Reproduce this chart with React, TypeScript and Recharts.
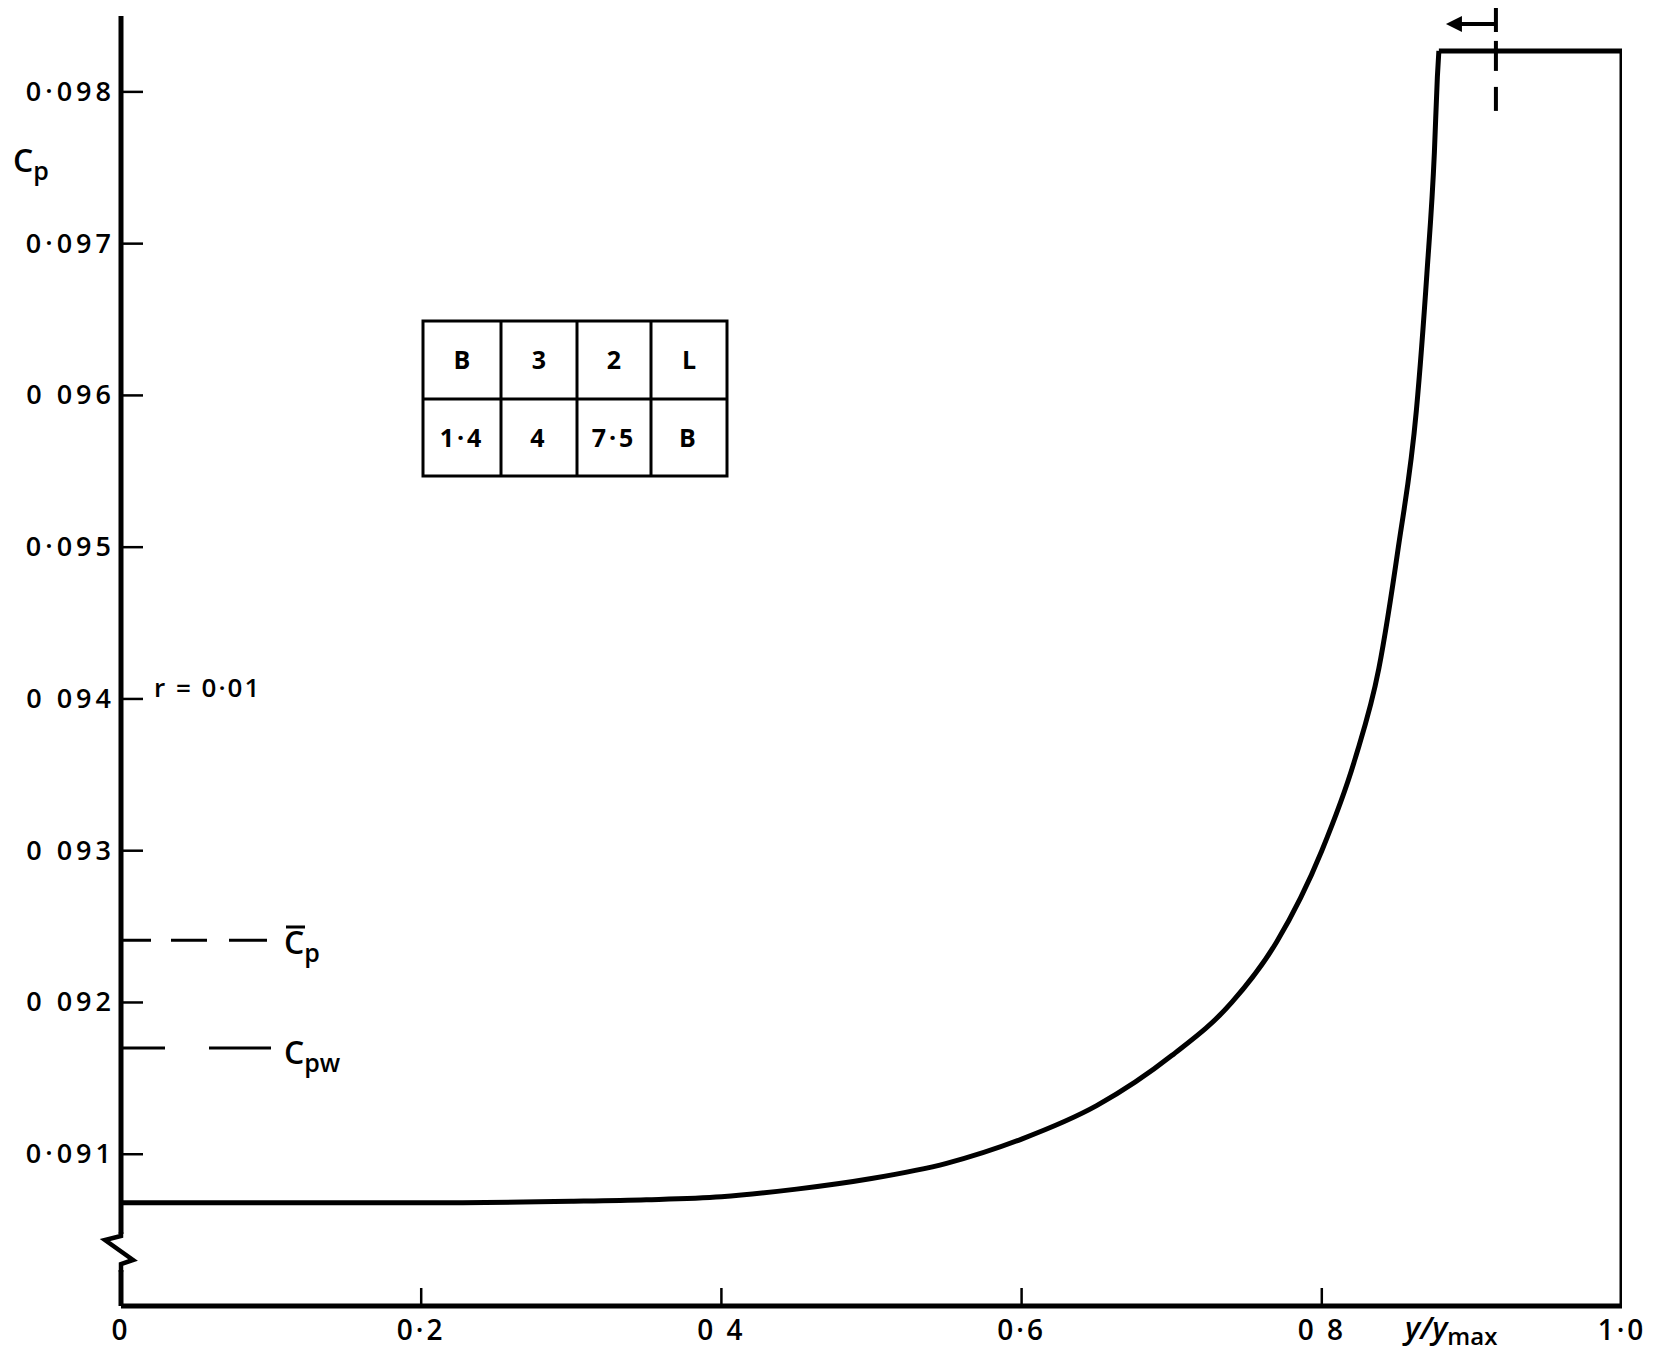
import { LineChart, Line, XAxis, YAxis, ReferenceLine } from "recharts";

// span position y/ymax and pressure coefficient Cp
const curveX = [0, 0.1, 0.2, 0.3, 0.35, 0.4, 0.45, 0.5, 0.55, 0.6, 0.65, 0.7, 0.74, 0.77, 0.8, 0.822, 0.838, 0.851, 0.863, 0.87, 0.875, 0.877, 0.878];
const curveCp = [0.09068, 0.09068, 0.09068, 0.09069, 0.0907, 0.09072, 0.09077, 0.09084, 0.09094, 0.0911, 0.09132, 0.09165, 0.092, 0.0924, 0.093, 0.0936, 0.0942, 0.095, 0.0959, 0.0968, 0.0976, 0.0981, 0.09827];

// flat top and tip edge
const tipX = [0.878, 1.0, 1.0];
const tipCp = [0.09827, 0.09827, 0.09];

const xTicks = [0, 0.2, 0.4, 0.6, 0.8, 1.0];
const xTickLabels = ["0", "0·2", "0 4", "0·6", "0 8", "1·0"];
const yTicks = [0.091, 0.092, 0.093, 0.094, 0.095, 0.096, 0.097, 0.098];
const yTickLabels = ["0·091", "0 092", "0 093", "0 094", "0·095", "0 096", "0·097", "0·098"];

const cpMean = 0.09241;
const cpWall = 0.0917;
const markerX = 0.916;

const tableTop = ["B", "3", "2", "L"];
const tableBottom = ["1·4", "4", "7·5", "B"];

const W = 1667;
const H = 1358;
const XH = 52;
const M = { top: 16, right: 45, bottom: 0, left: 0 };
const YW = 121;
const X_DOMAIN: [number, number] = [0, 1];
const Y_DOMAIN: [number, number] = [0.09, 0.0985];

const FONT = "'Open Sans', 'DejaVu Sans', sans-serif";

// same mapping the chart uses, for the drawn-on extras
const px = (x: number) => YW + ((x - X_DOMAIN[0]) / (X_DOMAIN[1] - X_DOMAIN[0])) * (W - M.right - YW);
const py = (v: number) => M.top + ((Y_DOMAIN[1] - v) / (Y_DOMAIN[1] - Y_DOMAIN[0])) * (H - XH - M.top);

const near = (a: number, b: number) => Math.abs(a - b) < 1e-9;

function XTick(props: any) {
  const { x, y, payload } = props;
  const i = xTicks.findIndex((t) => near(t, payload.value));
  const inner = i > 0 && i < xTicks.length - 1;
  return (
    <g>
      {inner && <line x1={x} x2={x} y1={y} y2={y - 18} stroke="#000" strokeWidth={2.5} />}
      <text x={x} y={y + 34} textAnchor="middle" fontFamily={FONT} fontWeight={600} fontSize={28} letterSpacing={3} fill="#000">
        {xTickLabels[i]}
      </text>
    </g>
  );
}

function YTick(props: any) {
  const { x, y, payload } = props;
  const i = yTicks.findIndex((t) => near(t, payload.value));
  return (
    <g>
      <line x1={x} x2={x + 22} y1={y} y2={y} stroke="#000" strokeWidth={2.5} />
      <text x={x - 6} y={y + 9} textAnchor="end" fontFamily={FONT} fontWeight={600} fontSize={27} letterSpacing={4} fill="#000">
        {yTickLabels[i]}
      </text>
    </g>
  );
}

function Overlay() {
  const cols = [423, 501, 577, 651, 727];
  const rows = [321, 399, 476];
  const mx = px(markerX);
  const topY = py(tipCp[0]);
  const baseY = py(Y_DOMAIN[0]);
  const b = baseY - 70;
  return (
    <svg width={W} height={H} style={{ position: "absolute", left: 0, top: 0, pointerEvents: "none" }}>
      {/* axis break */}
      <rect x={YW - 8} y={b - 2} width={16} height={36} fill="#fff" />
      <polyline points={`${YW},${b - 4} ${YW},${b} ${YW - 16},${b + 4} ${YW + 12},${b + 24} ${YW},${b + 28} ${YW},${b + 36}`} fill="none" stroke="#000" strokeWidth={4.5} strokeLinejoin="miter" />

      {/* tip marker with arrow */}
      <line x1={mx} x2={mx} y1={8} y2={32} stroke="#000" strokeWidth={4} />
      <line x1={mx} x2={mx} y1={topY - 10} y2={topY + 20} stroke="#000" strokeWidth={4} />
      <line x1={mx} x2={mx} y1={topY + 36} y2={topY + 60} stroke="#000" strokeWidth={4} />
      <line x1={mx} x2={mx - 38} y1={24} y2={24} stroke="#000" strokeWidth={4} />
      <polygon points={`${mx - 50},24 ${mx - 34},16 ${mx - 34},32`} fill="#000" />

      {/* configuration table */}
      <rect x={cols[0]} y={rows[0]} width={cols[4] - cols[0]} height={rows[2] - rows[0]} fill="#fff" stroke="#000" strokeWidth={3} />
      <line x1={cols[0]} x2={cols[4]} y1={rows[1]} y2={rows[1]} stroke="#000" strokeWidth={3} />
      {cols.slice(1, 4).map((c) => (
        <line key={c} x1={c} x2={c} y1={rows[0]} y2={rows[2]} stroke="#000" strokeWidth={3} />
      ))}
      {tableTop.map((t, i) => (
        <text key={"a" + i} x={(cols[i] + cols[i + 1]) / 2} y={(rows[0] + rows[1]) / 2 + 9} textAnchor="middle" fontFamily={FONT} fontWeight={700} fontSize={25} fill="#000">
          {t}
        </text>
      ))}
      {tableBottom.map((t, i) => (
        <text key={"b" + i} x={(cols[i] + cols[i + 1]) / 2} y={(rows[1] + rows[2]) / 2 + 9} textAnchor="middle" fontFamily={FONT} fontWeight={700} fontSize={25} letterSpacing={3} fill="#000">
          {t}
        </text>
      ))}

      {/* labels */}
      <text x={13} y={172} fontFamily={FONT} fontWeight={600} fontSize={32} fill="#000">
        C<tspan fontSize={25} dy={8}>p</tspan>
      </text>
      <text x={154} y={697} fontFamily={FONT} fontWeight={600} fontSize={26} letterSpacing={2} fill="#000">
        r = 0·01
      </text>
      <text x={284} y={954} fontFamily={FONT} fontWeight={600} fontSize={32} fill="#000">
        C<tspan fontSize={25} dy={8}>p</tspan>
      </text>
      <line x1={286} x2={305} y1={927} y2={927} stroke="#000" strokeWidth={3} />
      <text x={284} y={1064} fontFamily={FONT} fontWeight={600} fontSize={32} fill="#000">
        C<tspan fontSize={25} dy={8}>pw</tspan>
      </text>
      <text x={1405} y={1339} fontFamily={FONT} fontWeight={600} fontStyle="italic" fontSize={31} fill="#000">
        y/y<tspan fontSize={24} fontStyle="normal" dy={6}>max</tspan>
      </text>
    </svg>
  );
}

export default function App() {
  const curveData = curveX.map((x, i) => ({ x, cp: curveCp[i] }));
  const tipData = tipX.map((x, i) => ({ x, cp: tipCp[i] }));

  return (
    <div style={{ position: "absolute", left: 0, top: 0, width: W, height: H, background: "#fff" }}>
      <LineChart width={W} height={H} margin={M}>
        <XAxis
          type="number"
          dataKey="x"
          domain={X_DOMAIN}
          ticks={xTicks}
          allowDataOverflow
          axisLine={{ stroke: "#000", strokeWidth: 5 }}
          tickLine={false}
          tickSize={0}
          tickMargin={0}
          interval={0}
          tick={<XTick />}
          height={XH}
        />
        <YAxis
          type="number"
          domain={Y_DOMAIN}
          ticks={yTicks}
          allowDataOverflow
          axisLine={{ stroke: "#000", strokeWidth: 5 }}
          tickLine={false}
          tickSize={0}
          tickMargin={0}
          interval={0}
          tick={<YTick />}
          width={YW}
        />
        <ReferenceLine
          segment={[{ x: 0, y: cpMean }, { x: 0.1, y: cpMean }]}
          stroke="#000"
          strokeWidth={3}
          strokeDasharray="30 20 36 22 38"
        />
        <ReferenceLine
          segment={[{ x: 0, y: cpWall }, { x: 0.1, y: cpWall }]}
          stroke="#000"
          strokeWidth={3}
          strokeDasharray="44 44 62"
        />
        <Line data={curveData} dataKey="cp" type="monotone" stroke="#000" strokeWidth={5} dot={false} isAnimationActive={false} />
        <Line data={tipData} dataKey="cp" type="linear" stroke="#000" strokeWidth={5} dot={false} isAnimationActive={false} />
      </LineChart>
      <Overlay />
    </div>
  );
}
